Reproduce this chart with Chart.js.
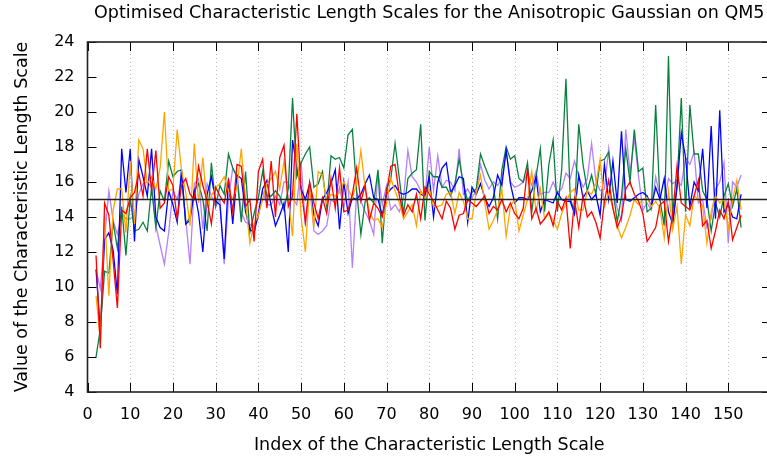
<!DOCTYPE html>
<html>
<head>
<meta charset="utf-8">
<script src="https://cdn.jsdelivr.net/npm/chart.js@4.4.1/dist/chart.umd.min.js"></script>
<style>
  html, body { margin: 0; padding: 0; background: #fff; overflow: hidden; }
  #wrap { width: 771px; height: 458px; }
</style>
</head>
<body>
<div id="wrap"><canvas id="lengthScales"></canvas></div>
<script>
// Index of the first length scale plotted
const firstIndex = 2;

// Optimised length scales, one value per index (2..153)
const redScales = [
  11.8, 6.5, 14.8, 14.1, 11.5, 8.8, 14.4, 14.2, 15.1, 15.4,
  16.5, 15.2, 17.9, 15.5, 17.8, 14.5, 14.8, 16.3, 15.8, 13.9,
  15.8, 16.2, 15.3, 15.0, 16.9, 15.8, 14.9, 13.6, 15.7, 15.2,
  14.8, 16.1, 14.3, 17.0, 16.9, 14.6, 15.0, 12.6, 16.6, 17.3,
  14.5, 17.2, 14.0, 17.4, 18.1, 14.6, 15.2, 19.9, 15.6, 13.7,
  16.0, 14.8, 13.9, 15.1, 14.2, 16.2, 14.5, 16.8, 14.3, 14.4,
  15.3, 16.8, 14.9, 15.8, 13.8, 14.8, 14.5, 14.0, 15.4, 16.9,
  17.0, 15.2, 14.1, 14.7, 14.3, 15.3, 13.9, 15.7, 15.3, 14.9,
  14.4, 13.9, 14.9, 14.5, 13.3, 14.1, 14.2, 15.0, 14.8, 14.6,
  14.9, 15.2, 14.2, 14.6, 14.4, 15.0, 14.3, 14.8, 14.2, 13.9,
  14.5, 16.8, 13.9, 14.5, 13.6, 13.9, 14.3, 13.5, 14.9, 14.4,
  15.1, 12.2, 15.0, 13.4, 15.2, 14.0, 14.3, 13.7, 12.8, 14.9,
  16.1, 14.5, 13.4, 14.0, 15.6, 16.0, 15.3, 14.9, 14.2, 12.6,
  13.0, 13.4, 14.7, 14.9, 12.6, 14.2, 16.9, 14.8, 14.6, 14.4,
  15.2, 16.1, 13.5, 13.8, 12.2, 13.2, 14.4, 13.9, 14.9, 12.7,
  13.4, 14.1
];

const blueScales = [
  11.0, 7.5, 12.7, 13.1, 12.1, 9.6, 17.9, 15.4, 17.9, 12.6,
  17.3, 16.3, 15.2, 17.9, 14.0, 13.4, 13.2, 15.5, 14.7, 13.7, 16.7, 13.6, 13.8, 15.5, 14.2,
  12.0, 15.3, 16.3, 14.9, 14.7, 11.6, 16.2, 13.6, 16.4, 16.2, 14.3, 13.3, 13.1,
  14.2, 15.6, 16.1, 14.6, 13.5, 14.1, 14.8, 12.0, 18.4, 16.8, 15.6, 15.0, 15.9,
  14.1, 13.5, 15.0, 15.4, 15.9, 16.7, 13.3, 16.0, 14.2, 15.1, 15.0, 15.3, 15.9,
  16.4, 15.1, 15.0, 14.1, 15.3, 15.6, 15.8, 15.4, 15.3, 15.4, 15.6, 15.6, 15.3,
  15.2, 16.3, 14.0, 16.0, 16.8, 17.1, 15.4, 15.8, 16.3, 16.2, 13.7, 15.7, 15.3,
  15.9, 15.1, 14.6, 15.1, 16.4, 15.8, 17.8, 15.9, 14.8, 15.1, 15.1, 15.0,
  15.5, 16.3, 14.3, 15.0, 14.9, 14.8, 15.4, 15.0, 14.9, 14.9, 14.2, 16.4, 15.1,
  15.5, 15.0, 15.3, 14.1, 17.0, 15.0, 17.2, 14.8, 18.9, 15.0, 14.9, 15.1, 15.3,
  15.4, 15.2, 14.6, 15.7, 15.0, 16.2, 14.3, 13.6, 15.7, 18.8, 17.4, 14.6,
  16.0, 15.5, 17.9, 14.5, 19.2, 13.9, 20.1, 14.3, 14.7, 14.0, 13.9, 15.3
];

const greenScales = [
  6.0, 7.6, 10.9, 10.8, 13.7, 12.2, 14.6, 11.8, 15.1, 13.2,
  13.3, 13.7, 13.2, 15.7, 13.4, 15.5, 14.9, 17.2, 16.3, 16.6, 16.7, 13.6, 14.0, 15.5,
  15.9, 15.0, 13.2, 17.1, 14.6, 15.8, 15.3, 17.6, 16.8, 16.3, 13.7, 16.6, 13.1, 14.2,
  15.1, 16.6, 15.2, 15.2, 15.5, 15.2, 14.4, 15.6, 20.8, 16.3, 17.1, 17.6, 18.0,
  15.7, 15.9, 16.6, 14.6, 17.5, 17.3, 17.4, 16.8, 18.7, 19.0, 15.5, 13.0, 14.9,
  15.1, 14.8, 16.7, 12.5, 15.6, 16.2, 18.2, 16.2, 14.2, 16.2, 16.5, 16.7, 19.3,
  13.8, 16.6, 16.3, 16.3, 15.7, 15.7, 15.2, 15.9, 17.3, 15.9, 14.9, 15.4, 15.6,
  17.6, 16.9, 16.3, 15.8, 13.9, 16.7, 18.0, 17.3, 17.5, 16.2, 16.0, 17.1,
  14.3, 16.3, 17.9, 14.3, 17.0, 18.4, 14.3, 16.7, 21.9, 15.1, 14.2, 19.3, 17.0,
  15.5, 16.4, 15.3, 17.2, 17.3, 17.7, 15.6, 13.7, 15.2, 17.9, 16.0, 19.0, 16.6,
  16.8, 14.3, 14.5, 20.4, 15.0, 13.5, 23.2, 13.7, 15.8, 20.8, 14.3, 20.4, 17.6,
  17.6, 15.5, 15.0, 13.2, 14.8, 14.0, 15.2, 15.9, 14.6, 15.6, 13.4
];

const orangeScales = [
  9.5, 7.0, 14.2, 9.5, 14.4, 15.6, 15.6, 13.1, 17.2, 13.6, 18.4, 17.9, 15.9,
  16.3, 15.6, 16.8, 20.0, 15.5, 15.6, 19.0, 16.7, 15.4, 13.5, 18.2, 14.8,
  17.4, 14.6, 15.2, 15.7, 15.9, 16.3, 15.5, 15.0, 15.7, 17.9, 14.9, 12.5, 13.6,
  14.1, 15.0, 15.9, 16.2, 16.6, 15.6, 17.2, 15.0, 12.9, 18.2, 14.0, 12.0, 15.8,
  13.4, 16.6, 16.4, 14.8, 15.3, 15.2, 15.4, 16.0, 15.6, 15.1, 15.9, 17.8, 15.6,
  14.3, 13.8, 13.9, 13.4, 14.8, 16.2, 15.5, 14.8, 13.9, 14.3, 14.7, 13.5, 15.5,
  15.1, 15.6, 14.6, 14.6, 14.7, 15.3, 15.4, 14.2, 15.4, 14.9, 13.9, 13.9, 15.4,
  16.4, 14.8, 13.3, 13.8, 14.4, 15.6, 12.9, 14.6, 15.0, 13.2, 14.1, 15.0,
  16.6, 14.3, 15.6, 13.9, 14.2, 13.8, 13.3, 14.2, 14.8, 15.4, 15.6, 14.4, 14.4,
  15.5, 15.3, 15.9, 17.3, 14.6, 15.4, 14.5, 13.5, 12.8, 13.4, 14.1, 15.0, 14.7,
  15.0, 15.1, 14.6, 14.9, 14.5, 12.8, 15.5, 13.3, 14.6, 11.3, 14.1, 13.5,
  15.2, 15.0, 14.6, 12.5, 14.3, 15.2, 14.8, 15.0, 13.3, 15.0, 16.1, 14.4
];

const violetScales = [
  11.0, 9.9, 12.8, 15.5, 13.8, 13.0, 14.2, 13.9, 13.9, 14.1, 15.3, 15.9, 16.0,
  15.7, 13.5, 12.4, 11.3, 13.1, 15.5, 15.0, 16.1, 13.9, 11.3, 15.9, 16.2,
  13.3, 15.9, 15.2, 14.6, 15.0, 11.3, 15.0, 16.8, 16.3, 14.3, 13.7, 13.6, 13.4,
  14.0, 15.5, 14.7, 14.7, 15.2, 14.7, 16.0, 16.0, 15.1, 14.7, 17.2, 13.5, 15.9,
  13.2, 13.0, 13.2, 13.5, 15.0, 14.8, 15.7, 14.5, 16.0, 11.1, 15.4, 14.9, 14.3,
  13.8, 13.0, 16.6, 14.7, 15.8, 14.4, 14.7, 14.3, 15.1, 17.8, 16.3, 16.0, 15.5,
  15.1, 18.0, 15.5, 17.5, 15.7, 16.1, 16.0, 15.5, 17.9, 15.3, 15.6, 15.1, 15.5,
  17.0, 16.1, 15.6, 16.0, 15.8, 16.2, 17.8, 16.0, 15.7, 15.8, 16.0, 16.5,
  15.8, 16.6, 15.3, 15.4, 15.4, 16.0, 15.4, 15.6, 16.5, 16.2, 17.2, 16.3, 15.7,
  16.2, 18.2, 16.1, 15.5, 15.6, 17.9, 15.5, 14.5, 13.8, 19.0, 16.5, 18.5, 16.3,
  14.4, 14.8, 14.4, 16.3, 15.2, 14.8, 16.2, 15.9, 16.1, 15.8, 17.4, 17.0,
  17.7, 14.8, 15.0, 13.4, 13.9, 15.6, 16.0, 17.1, 12.5, 16.0, 15.7, 16.4
];

// Reference level drawn across the plot
const referenceLevel = 15;

// Axis ranges and tick labels
const xMin = 0, xMax = 160;
const xTickValues = [0, 10, 20, 30, 40, 50, 60, 70, 80, 90, 100, 110, 120, 130, 140, 150];
const yMin = 4, yMax = 24, yStep = 2;

const toPoints = values => values.map((v, k) => ({ x: firstIndex + k, y: v }));

const FONT = 'DejaVu Sans';
const TITLE_SIZE = 17.5;

// gnuplot-like frame: dotted grid, inward ticks, box border
const frameTicks = {
  id: 'frameTicks',
  beforeDatasetsDraw(chart) {
    const { ctx, chartArea: a, scales: { x } } = chart;
    ctx.save();
    ctx.strokeStyle = '#b8b8b8';
    ctx.lineWidth = 1;
    ctx.setLineDash([1, 3]);
    ctx.beginPath();
    x.ticks.forEach(t => {
      if (t.value <= xMin) return;
      const px = Math.round(x.getPixelForValue(t.value)) + 0.5;
      ctx.moveTo(px, a.top);
      ctx.lineTo(px, a.bottom);
    });
    ctx.stroke();
    ctx.restore();
  },
  afterDatasetsDraw(chart) {
    const { ctx, chartArea: a, scales: { x, y } } = chart;
    const len = 9;
    ctx.save();
    ctx.strokeStyle = '#000';
    ctx.lineWidth = 1;
    ctx.beginPath();
    x.ticks.forEach(t => {
      const px = Math.round(x.getPixelForValue(t.value)) + 0.5;
      ctx.moveTo(px, a.bottom); ctx.lineTo(px, a.bottom - len);
      ctx.moveTo(px, a.top); ctx.lineTo(px, a.top + len);
    });
    y.ticks.forEach(t => {
      const py = Math.round(y.getPixelForValue(t.value)) + 0.5;
      ctx.moveTo(a.left, py); ctx.lineTo(a.left + len, py);
      ctx.moveTo(a.right, py); ctx.lineTo(a.right - len, py);
    });
    ctx.stroke();
    ctx.lineWidth = 1.6;
    ctx.strokeStyle = '#222';
    ctx.strokeRect(a.left, a.top, a.right - a.left, a.bottom - a.top);
    ctx.restore();
  }
};

const lineSet = (label, values, color, order) => ({
  label,
  data: toPoints(values),
  borderColor: color,
  borderWidth: 1.3,
  pointRadius: 0,
  tension: 0,
  fill: false,
  order
});

const config = {
  type: 'line',
  data: {
    datasets: [
      {
        label: 'reference',
        data: [{ x: xMin, y: referenceLevel }, { x: xMax, y: referenceLevel }],
        borderColor: '#222',
        borderWidth: 1.5,
        pointRadius: 0,
        order: 0
      },
      lineSet('red', redScales, '#ff0000', 1),
      lineSet('orange', orangeScales, '#ffa500', 2),
      lineSet('blue', blueScales, '#0000ff', 3),
      lineSet('green', greenScales, '#0a8040', 4),
      lineSet('violet', violetScales, '#b380ff', 5)
    ]
  },
  options: {
    responsive: true,
    maintainAspectRatio: false,
    animation: false,
    layout: { padding: 0 },
    plugins: {
      legend: { display: false },
      tooltip: { enabled: false }
    },
    scales: {
      x: {
        type: 'linear',
        min: xMin,
        max: xMax,
        afterBuildTicks: s => { s.ticks = xTickValues.map(v => ({ value: v })); },
        afterFit: s => { s.height = 66; },
        grid: { display: false, drawTicks: false },
        border: { display: false },
        ticks: {
          color: '#000',
          padding: 13,
          maxRotation: 0,
          autoSkip: false,
          font: { family: FONT, size: 16 }
        },
        title: {
          display: true,
          text: 'Index of the Characteristic Length Scale',
          color: '#000',
          font: { family: FONT, size: TITLE_SIZE },
          padding: { top: 0, bottom: 2.5 }
        }
      },
      // top axis only carries the chart title, centred over the plot
      xTop: {
        type: 'linear',
        position: 'top',
        min: xMin,
        max: xMax,
        afterFit: s => { s.height = 42; },
        grid: { display: false, drawTicks: false },
        border: { display: false },
        ticks: { display: false },
        title: {
          display: true,
          text: 'Optimised Characteristic Length Scales for the Anisotropic Gaussian on QM5',
          color: '#000',
          font: { family: FONT, size: TITLE_SIZE },
          padding: { top: 2.5, bottom: 0 }
        }
      },
      y: {
        min: yMin,
        max: yMax,
        afterFit: s => { s.width = 87.5; },
        grid: { display: false, drawTicks: false },
        border: { display: false },
        ticks: {
          stepSize: yStep,
          color: '#000',
          padding: 13,
          font: { family: FONT, size: 16 }
        },
        title: {
          display: true,
          text: 'Value of the Characteristic Length Scale',
          color: '#000',
          font: { family: FONT, size: TITLE_SIZE },
          padding: { top: 11.5, bottom: 0 }
        }
      }
    }
  },
  plugins: [frameTicks]
};

new Chart(document.getElementById('lengthScales'), config);
</script>
</body>
</html>
